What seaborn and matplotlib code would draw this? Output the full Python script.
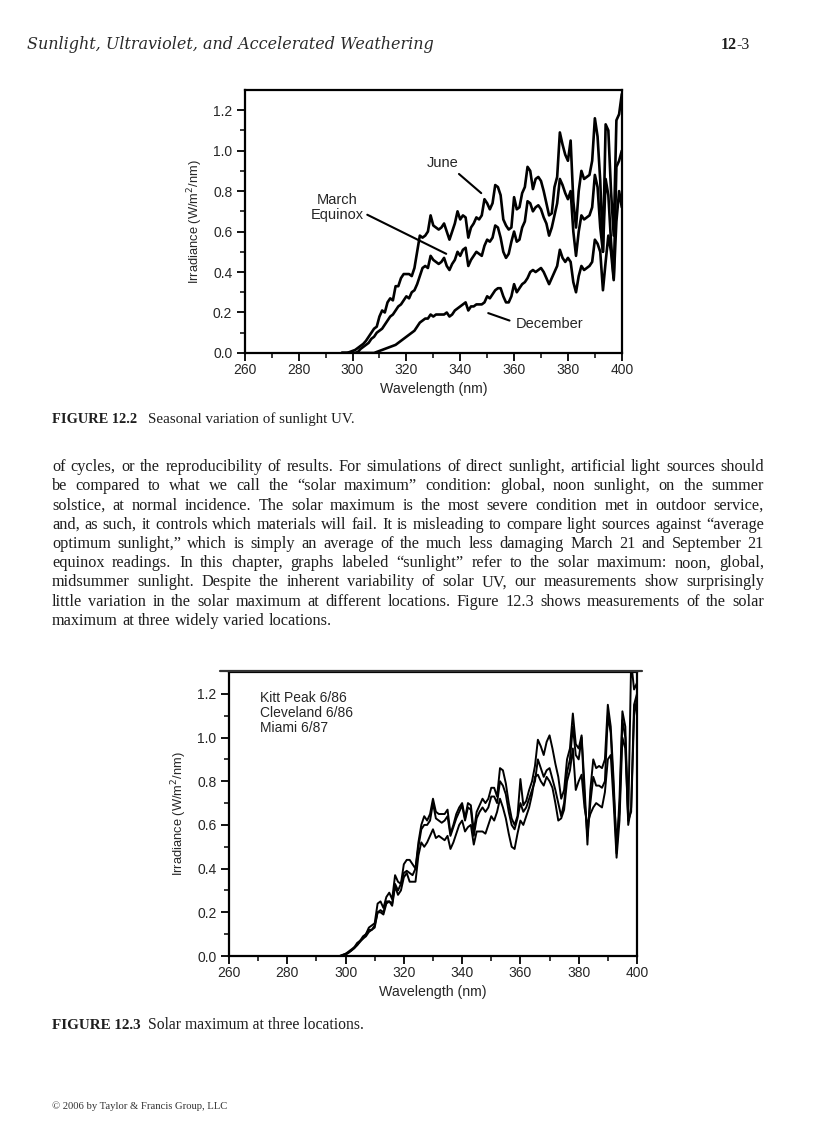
import numpy as np
import matplotlib
matplotlib.use('Agg')
import matplotlib.pyplot as plt
from matplotlib.lines import Line2D
import seaborn as sns

# ---- data (W/m2/nm) ----
wavelength = np.arange(296, 401)

june = [0, 0, 0.0, 0.005, 0.01, 0.015, 0.025, 0.035, 0.045, 0.06, 0.08, 0.1, 0.12, 0.13, 0.18,
        0.21, 0.2, 0.25, 0.27, 0.26, 0.33, 0.33, 0.37, 0.39, 0.39, 0.39, 0.38, 0.42, 0.5, 0.58,
        0.57, 0.58, 0.6, 0.68, 0.63, 0.62, 0.61, 0.62, 0.64, 0.6, 0.56, 0.6, 0.64, 0.7, 0.66,
        0.68, 0.67, 0.57, 0.62, 0.64, 0.67, 0.66, 0.68, 0.76, 0.74, 0.71, 0.74, 0.83, 0.82, 0.78,
        0.66, 0.63, 0.61, 0.62, 0.77, 0.71, 0.72, 0.79, 0.82, 0.92, 0.9, 0.81, 0.86, 0.87, 0.85,
        0.8, 0.74, 0.68, 0.69, 0.82, 0.87, 1.09, 1.03, 0.98, 0.95, 1.05, 0.75, 0.62, 0.8, 0.9,
        0.86, 0.87, 0.88, 0.95, 1.16, 1.07, 0.85, 0.5, 1.13, 1.1, 0.8, 0.58, 1.15, 1.18, 1.28]
march = [0, 0, 0, 0, 0, 0.0, 0.005, 0.02, 0.03, 0.04, 0.05, 0.07, 0.08, 0.1, 0.11,
         0.12, 0.14, 0.16, 0.18, 0.19, 0.21, 0.23, 0.24, 0.26, 0.28, 0.27, 0.3, 0.31, 0.34, 0.38,
         0.42, 0.43, 0.42, 0.48, 0.46, 0.45, 0.44, 0.45, 0.47, 0.43, 0.41, 0.44, 0.46, 0.5, 0.48,
         0.51, 0.52, 0.43, 0.46, 0.48, 0.5, 0.49, 0.48, 0.53, 0.56, 0.55, 0.57, 0.63, 0.62, 0.57,
         0.5, 0.47, 0.49, 0.55, 0.6, 0.55, 0.56, 0.62, 0.65, 0.75, 0.74, 0.7, 0.72, 0.73, 0.71,
         0.67, 0.64, 0.58, 0.62, 0.68, 0.74, 0.86, 0.83, 0.79, 0.76, 0.8, 0.6, 0.48, 0.6, 0.68,
         0.66, 0.67, 0.68, 0.72, 0.88, 0.82, 0.62, 0.5, 0.86, 0.78, 0.55, 0.37, 0.92, 0.95, 1.0]
december = [0, 0, 0, 0, 0, 0, 0, 0, 0, 0, 0, 0, 0.0, 0.005, 0.01,
            0.015, 0.02, 0.025, 0.03, 0.035, 0.04, 0.05, 0.06, 0.07, 0.08, 0.09, 0.1, 0.11, 0.13, 0.15,
            0.16, 0.17, 0.17, 0.19, 0.18, 0.19, 0.19, 0.19, 0.19, 0.2, 0.18, 0.19, 0.21, 0.22, 0.23,
            0.24, 0.25, 0.21, 0.23, 0.23, 0.24, 0.24, 0.24, 0.25, 0.28, 0.27, 0.29, 0.31, 0.32, 0.32,
            0.28, 0.25, 0.25, 0.28, 0.34, 0.3, 0.32, 0.34, 0.35, 0.37, 0.4, 0.41, 0.4, 0.41, 0.42,
            0.4, 0.37, 0.34, 0.37, 0.4, 0.43, 0.51, 0.47, 0.45, 0.47, 0.45, 0.35, 0.3, 0.38, 0.43,
            0.41, 0.42, 0.43, 0.45, 0.56, 0.54, 0.5, 0.31, 0.45, 0.58, 0.5, 0.36, 0.65, 0.8, 0.72]

kitt_peak = [0, 0, 0.0, 0.005, 0.01, 0.02, 0.03, 0.04, 0.06, 0.07, 0.09, 0.1, 0.13, 0.14, 0.15,
             0.24, 0.25, 0.22, 0.27, 0.29, 0.26, 0.37, 0.34, 0.33, 0.42, 0.44, 0.44, 0.42, 0.4, 0.52,
             0.6, 0.64, 0.62, 0.65, 0.72, 0.66, 0.65, 0.65, 0.65, 0.67, 0.56, 0.6, 0.65, 0.68, 0.7,
             0.63, 0.7, 0.69, 0.57, 0.66, 0.69, 0.72, 0.7, 0.72, 0.77, 0.77, 0.73, 0.86, 0.85, 0.79,
             0.7, 0.63, 0.6, 0.64, 0.81, 0.69, 0.71, 0.76, 0.8, 0.87, 0.99, 0.96, 0.92, 0.98, 1.01,
             0.95, 0.88, 0.82, 0.72, 0.76, 0.9, 0.95, 1.11, 0.97, 0.95, 1.01, 0.78, 0.51, 0.76, 0.9,
             0.86, 0.87, 0.86, 0.9, 1.15, 1.05, 0.8, 0.47, 0.72, 1.12, 1.05, 0.63, 1.35, 1.22, 1.25]
cleveland = [0, 0, 0, 0.0, 0.005, 0.015, 0.025, 0.04, 0.05, 0.07, 0.08, 0.1, 0.12, 0.12, 0.14,
             0.2, 0.21, 0.2, 0.25, 0.25, 0.24, 0.33, 0.3, 0.33, 0.38, 0.39, 0.38, 0.37, 0.4, 0.5,
             0.58, 0.6, 0.6, 0.62, 0.7, 0.63, 0.62, 0.61, 0.62, 0.64, 0.55, 0.59, 0.63, 0.66, 0.69,
             0.62, 0.68, 0.67, 0.55, 0.63, 0.66, 0.68, 0.66, 0.68, 0.73, 0.73, 0.7, 0.8, 0.78, 0.74,
             0.66, 0.6, 0.58, 0.63, 0.7, 0.66, 0.68, 0.72, 0.76, 0.8, 0.9, 0.86, 0.82, 0.85, 0.86,
             0.81, 0.76, 0.7, 0.64, 0.7, 0.84, 0.9, 1.05, 0.92, 0.9, 1.0, 0.72, 0.55, 0.7, 0.82,
             0.78, 0.78, 0.77, 0.8, 1.1, 1.02, 0.75, 0.52, 0.66, 1.08, 1.0, 0.6, 0.68, 1.15, 1.2]
miami = [0, 0, 0.0, 0.005, 0.01, 0.015, 0.025, 0.035, 0.05, 0.065, 0.08, 0.09, 0.11, 0.12, 0.13,
         0.2, 0.2, 0.19, 0.24, 0.25, 0.23, 0.32, 0.28, 0.3, 0.36, 0.38, 0.34, 0.34, 0.34, 0.46,
         0.52, 0.5, 0.52, 0.55, 0.58, 0.54, 0.55, 0.54, 0.53, 0.55, 0.49, 0.52, 0.56, 0.6, 0.62,
         0.57, 0.59, 0.6, 0.51, 0.57, 0.57, 0.57, 0.56, 0.6, 0.64, 0.62, 0.66, 0.72, 0.68, 0.63,
         0.56, 0.5, 0.49, 0.56, 0.62, 0.6, 0.64, 0.68, 0.74, 0.82, 0.83, 0.8, 0.78, 0.82, 0.8,
         0.77, 0.7, 0.62, 0.63, 0.67, 0.8, 0.85, 0.95, 0.76, 0.8, 0.83, 0.68, 0.6, 0.65, 0.68,
         0.7, 0.69, 0.68, 0.75, 0.9, 0.92, 0.7, 0.45, 0.62, 1.0, 0.95, 0.62, 0.66, 1.1, 1.18]

legend_labels = ['Kitt Peak 6/86', 'Cleveland 6/86', 'Miami 6/87']

header_title = 'Sunlight, Ultraviolet, and Accelerated Weathering'
caption1 = ('FIGURE 12.2', 'Seasonal variation of sunlight UV.')
caption2 = ('FIGURE 12.3', 'Solar maximum at three locations.')
footer = '\u00a9 2006 by Taylor & Francis Group, LLC'
body_lines = [
    'of cycles, or the reproducibility of results. For simulations of direct sunlight, artificial light sources should',
    'be compared to what we call the \u201csolar maximum\u201d condition: global, noon sunlight, on the summer',
    'solstice, at normal incidence. The solar maximum is the most severe condition met in outdoor service,',
    'and, as such, it controls which materials will fail. It is misleading to compare light sources against \u201caverage',
    'optimum sunlight,\u201d which is simply an average of the much less damaging March 21 and September 21',
    'equinox readings. In this chapter, graphs labeled \u201csunlight\u201d refer to the solar maximum: noon, global,',
    'midsummer sunlight. Despite the inherent variability of solar UV, our measurements show surprisingly',
    'little variation in the solar maximum at different locations. Figure 12.3 shows measurements of the solar',
    'maximum at three widely varied locations.',
]

sns.set_style('ticks')
plt.rcParams['font.family'] = ['Liberation Sans', 'DejaVu Sans']

W, H = 816, 1123
fig = plt.figure(figsize=(W / 100, H / 100), dpi=100)
SERIF = ['Liberation Serif', 'DejaVu Serif']
INK = '#1e1e1e'


def px(x, y):
    return x / W, 1 - y / H


def style_axes(ax):
    ax.set_xlim(260, 400)
    ax.set_ylim(0, 1.3)
    ax.set_xticks(range(260, 401, 20))
    ax.set_xticks(range(270, 400, 20), minor=True)
    ax.set_yticks([0, 0.2, 0.4, 0.6, 0.8, 1.0, 1.2])
    ax.set_yticks([0.1, 0.3, 0.5, 0.7, 0.9, 1.1], minor=True)
    ax.set_yticklabels(['0.0', '0.2', '0.4', '0.6', '0.8', '1.0', '1.2'])
    ax.tick_params(which='major', direction='out', length=6, width=1.3, labelsize=10, pad=3, color='black')
    ax.tick_params(axis='x', which='major', pad=1.5)
    ax.tick_params(which='minor', direction='out', length=3.5, width=1.1, color='black')
    for s in ax.spines.values():
        s.set_visible(True)
        s.set_linewidth(1.6)
        s.set_color('black')
    ax.set_xlabel('Wavelength (nm)', fontsize=10.2, labelpad=3)
    ax.set_ylabel('Irradiance (W/m$^2$/nm)', fontsize=9.3, labelpad=6)
    ax.grid(False)


# ---- figure 12.2 ----
ax1 = fig.add_axes([0.300, 0.6857, 0.462, 0.2342])
for vals in (june, march, december):
    sns.lineplot(x=wavelength, y=vals, ax=ax1, color='black', lw=1.9)
style_axes(ax1)
ax1.annotate('June', xy=(347.8, 0.79), xytext=(333.6, 0.94), fontsize=10.5, ha='center', va='center',
             arrowprops=dict(arrowstyle='-', lw=1.5, color='black', shrinkA=1, shrinkB=0,
                             relpos=(0.85, 0.0)))
ax1.annotate('March\nEquinox', xy=(334.8, 0.49), xytext=(294.4, 0.72), fontsize=10.5, ha='center', va='center',
             linespacing=1.1,
             arrowprops=dict(arrowstyle='-', lw=1.5, color='black', shrinkA=0, shrinkB=0,
                             relpos=(1.0, 0.3)))
ax1.annotate('December', xy=(350.4, 0.197), xytext=(360.5, 0.143), fontsize=10.5, ha='left', va='center',
             arrowprops=dict(arrowstyle='-', lw=1.5, color='black', shrinkA=2, shrinkB=0,
                             relpos=(0.0, 0.6)))

# ---- figure 12.3 ----
ax2 = fig.add_axes([0.2806, 0.1487, 0.500, 0.2529])
for vals in (kitt_peak, cleveland, miami):
    sns.lineplot(x=wavelength, y=vals, ax=ax2, color='black', lw=1.4)
style_axes(ax2)
for i, lab in enumerate(legend_labels):
    ax2.text(270.6, 1.18 - 0.0686 * i, lab, fontsize=10, va='center', ha='left')
# the printed frame rule on top of fig 12.3 runs past the axes
fig.add_artist(Line2D([220 / W, 642 / W], [1 - 671 / H, 1 - 671 / H], color='#333333', lw=1.6))

# ---- page text ----
fig.canvas.draw()
rend = fig.canvas.get_renderer()


def text_width(t):
    return t.get_window_extent(rend).width


# header, wide italic fitted to the printed run (27..433 px)
HEAD_SERIF = ['DejaVu Serif', 'Liberation Serif']
th = fig.text(*px(27, 49), header_title, fontsize=11, family=HEAD_SERIF, style='italic',
              va='baseline', color='#2a2a2a')
th.set_fontsize(11 * (433 - 27) / text_width(th))
t3 = fig.text(*px(750, 49), '-3', fontsize=11.5, family=SERIF, va='baseline', ha='right', color=INK)
fig.text(*px(750 - text_width(t3), 49), '12', fontsize=11.5, family=SERIF, weight='bold', va='baseline',
         ha='right', color=INK)

# captions
for (bold, rest), yb, fs in ((caption1, 423, 10.4), (caption2, 1029, 10.9)):
    fig.text(*px(52, yb), bold, fontsize=fs, family=SERIF, weight='bold', va='baseline', color=INK)
    fig.text(*px(148, yb), rest, fontsize=fs + 0.4, family=SERIF, va='baseline', color=INK)

# body paragraph, justified; font size fitted to the widest line
x_left, x_right = 52, 764
probe = [fig.text(0, 0, ln, fontsize=10, family=SERIF) for ln in body_lines[:-1]]
widest = max(text_width(t) for t in probe)
for t in probe:
    t.remove()
body_fs = 10 * (x_right - x_left) / widest * 0.985
for i, line in enumerate(body_lines):
    yb = 471 + 19.25 * i
    words = line.split()
    ts = [fig.text(*px(0, yb), w, fontsize=body_fs, family=SERIF, va='baseline', color=INK) for w in words]
    widths = [text_width(t) for t in ts]
    if i == len(body_lines) - 1:
        gap = body_fs * 0.35
    else:
        gap = (x_right - x_left - sum(widths)) / (len(words) - 1)
    x = x_left
    for t, w in zip(ts, widths):
        t.set_x(x / W)
        x += w + gap

fig.text(*px(52, 1109), footer, fontsize=7.7, family=SERIF, va='baseline', color='#333333')

fig.savefig('out.png', dpi=100)
